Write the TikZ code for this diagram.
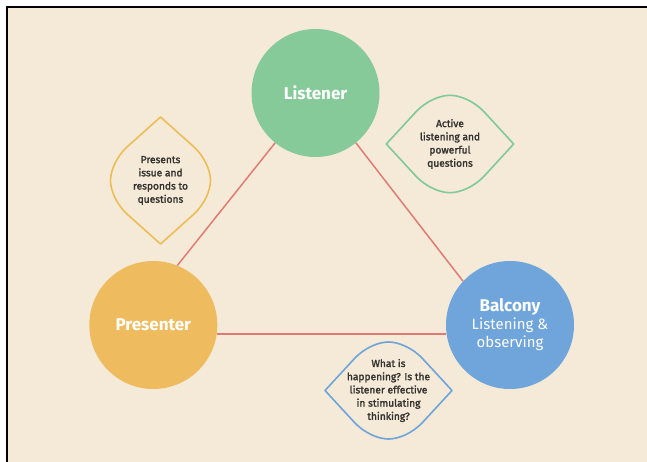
\documentclass[tikz,border=0pt]{standalone}
\usepackage{fontspec}
\setmainfont{Fira Sans}
\newfontfamily\notefont{Fira Sans}[FakeBold=2]
\usetikzlibrary{calc}

\definecolor{cream}{HTML}{F5EAD8}
\definecolor{mint}{HTML}{86CA9A}
\definecolor{amber}{HTML}{EEBC5F}
\definecolor{sky}{HTML}{6FA5DB}
\definecolor{linkred}{HTML}{E07B74}
\definecolor{mintline}{HTML}{7FCB96}
\definecolor{amberline}{HTML}{EDBD55}
\definecolor{skyline}{HTML}{6FA4DA}
\definecolor{inkgray}{HTML}{343230}

% Rounded diamond round a note: sharp ends on the long axis, straight
% flanks that round off into the ends of the short axis.
% #1 node, #2 half length of long axis, #3 half length of short axis, #4 colour
\newcommand\lemonH[4]{%
  \draw[lemonline,#4] ($(#1)+(-#2,0)$)
    -- ($(#1)+(-0.535*#2,0.66*#3)$)
    .. controls ($(#1)+(-0.378*#2,0.88*#3)$) and ($(#1)+(-0.157*#2,#3)$) .. ($(#1)+(0,#3)$)
    .. controls ($(#1)+(0.157*#2,#3)$) and ($(#1)+(0.378*#2,0.88*#3)$) .. ($(#1)+(0.535*#2,0.66*#3)$)
    -- ($(#1)+(#2,0)$)
    -- ($(#1)+(0.535*#2,-0.66*#3)$)
    .. controls ($(#1)+(0.378*#2,-0.88*#3)$) and ($(#1)+(0.157*#2,-#3)$) .. ($(#1)+(0,-#3)$)
    .. controls ($(#1)+(-0.157*#2,-#3)$) and ($(#1)+(-0.378*#2,-0.88*#3)$) .. ($(#1)+(-0.535*#2,-0.66*#3)$)
    -- cycle;}
\newcommand\lemonV[4]{%
  \draw[lemonline,#4] ($(#1)+(0,-#2)$)
    -- ($(#1)+(0.66*#3,-0.535*#2)$)
    .. controls ($(#1)+(0.88*#3,-0.378*#2)$) and ($(#1)+(#3,-0.157*#2)$) .. ($(#1)+(#3,0)$)
    .. controls ($(#1)+(#3,0.157*#2)$) and ($(#1)+(0.88*#3,0.378*#2)$) .. ($(#1)+(0.66*#3,0.535*#2)$)
    -- ($(#1)+(0,#2)$)
    -- ($(#1)+(-0.66*#3,0.535*#2)$)
    .. controls ($(#1)+(-0.88*#3,0.378*#2)$) and ($(#1)+(-#3,0.157*#2)$) .. ($(#1)+(-#3,0)$)
    .. controls ($(#1)+(-#3,-0.157*#2)$) and ($(#1)+(-0.88*#3,-0.378*#2)$) .. ($(#1)+(-0.66*#3,-0.535*#2)$)
    -- cycle;}

\tikzset{
  hub/.style={circle, minimum size=128pt, inner sep=0pt, text=white,
    align=center, font=\fontsize{17}{19}\selectfont\bfseries},
  link/.style={draw=linkred, line width=1.5pt},
  note/.style={align=center, text=inkgray, inner sep=0pt,
    font=\notefont\fontsize{10.2}{13.2}\selectfont},
  lemonline/.style={line width=1.6pt, line join=round},
}

\begin{document}
\begin{tikzpicture}[x=1pt,y=-1pt]
\useasboundingbox (0,0) rectangle (647,462);
% page and frame
\fill[white] (0,0) rectangle (647,462);
\fill[cream] (7,8) rectangle (647,462);
\draw[black, line width=2pt] (6.5,462) -- (6.5,7.5) -- (647,7.5);

% the three roles
\node[hub, fill=mint] (listener) at (315.5,93) {Listener};
\node[hub, fill=amber] (presenter) at (153.3,325) {Presenter};
\node[hub, fill=sky] (balcony) at (510,325)
  {Balcony\\[-1pt]{\fontsize{15}{19}\selectfont\mdseries Listening \&}\\[-1pt]
   {\fontsize{15}{19}\selectfont\mdseries observing}};

% connecting triangle
\draw[link] (listener.231) -- (presenter.68);
\draw[link] (listener.309) -- (balcony.137);
\draw[link] (presenter.352) -- (balcony.188);

% notes
\node[note] (pnote) at (160.5,180.5) {Presents\\issue and\\responds to\\questions};
\node[note] (lnote) at (450,144) {Active\\listening and\\powerful\\questions};
\node[note] (bnote) at (388.5,390.5) {What is\\happening? Is the\\listener effective\\in stimulating\\thinking?};

\lemonV{pnote}{63.5}{50}{amberline}
\lemonH{lnote}{63.7}{48.7}{mintline}
\lemonH{bnote}{63.5}{48.5}{skyline}
\end{tikzpicture}
\end{document}
